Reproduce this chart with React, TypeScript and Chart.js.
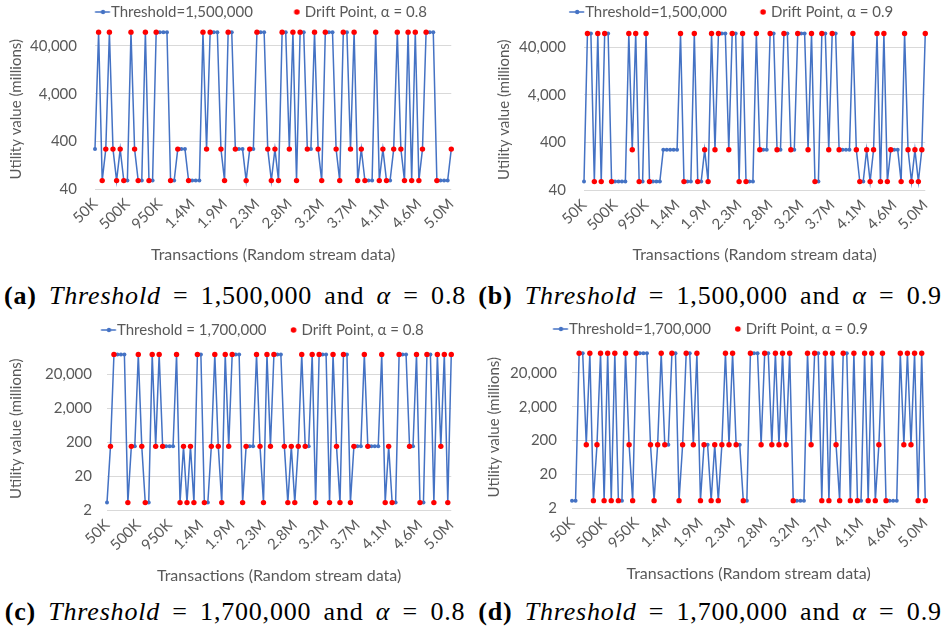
import React, { useEffect, useRef } from "react";
import { Chart, registerables } from "chart.js";

Chart.register(...registerables);

// ---------- categories (x axis) ----------
const transactionLabels = [
  "50K", "100K", "150K", "200K", "250K", "300K", "350K", "400K", "450K", "500K",
  "550K", "600K", "650K", "700K", "750K", "800K", "850K", "900K", "950K", "1.0M",
  "1.1M", "1.1M", "1.2M", "1.2M", "1.3M", "1.3M", "1.4M", "1.4M", "1.5M", "1.5M",
  "1.6M", "1.6M", "1.7M", "1.7M", "1.8M", "1.8M", "1.9M", "1.9M", "2.0M", "2.0M",
  "2.1M", "2.1M", "2.2M", "2.2M", "2.3M", "2.3M", "2.4M", "2.4M", "2.5M", "2.5M",
  "2.6M", "2.6M", "2.7M", "2.7M", "2.8M", "2.8M", "2.9M", "2.9M", "3.0M", "3.0M",
  "3.1M", "3.1M", "3.2M", "3.2M", "3.3M", "3.3M", "3.4M", "3.4M", "3.5M", "3.5M",
  "3.6M", "3.6M", "3.7M", "3.7M", "3.8M", "3.8M", "3.9M", "3.9M", "4.0M", "4.0M",
  "4.1M", "4.1M", "4.2M", "4.2M", "4.3M", "4.3M", "4.4M", "4.4M", "4.5M", "4.5M",
  "4.6M", "4.6M", "4.7M", "4.7M", "4.8M", "4.8M", "4.9M", "4.9M", "5.0M", "5.0M",
];
const labelStep = 9;

// ---------- y tick labels ----------
const yTicksAB = [40, 400, 4000, 40000];
const yTicksCD = [2, 20, 200, 2000, 20000];

// ---------- (a) Threshold = 1,500,000, alpha = 0.8 ----------
const utilityA = [
  275, 78000, 60, 275, 78000, 275, 60, 275, 60, 60,
  78000, 275, 60, 60, 78000, 60, 60, 78000, 78000, 78000,
  78000, 60, 60, 275, 275, 275, 60, 60, 60, 60,
  78000, 275, 78000, 78000, 78000, 275, 60, 78000, 78000, 275,
  275, 275, 60, 275, 275, 78000, 78000, 78000, 275, 60,
  275, 60, 78000, 78000, 275, 78000, 60, 78000, 78000, 275,
  275, 78000, 275, 60, 78000, 78000, 78000, 275, 60, 78000,
  78000, 275, 78000, 60, 275, 60, 60, 60, 78000, 60,
  275, 60, 60, 275, 78000, 275, 60, 78000, 60, 78000,
  60, 275, 78000, 78000, 78000, 60, 60, 60, 60, 275,
];
const driftA = [
  0, 1, 1, 1, 1, 1, 1, 1, 1, 0,
  1, 1, 1, 0, 1, 1, 0, 1, 0, 0,
  0, 1, 0, 1, 0, 0, 1, 0, 0, 0,
  1, 1, 1, 0, 0, 1, 1, 1, 0, 1,
  0, 0, 1, 1, 0, 1, 0, 0, 1, 1,
  1, 1, 1, 0, 1, 1, 1, 1, 0, 1,
  0, 1, 1, 1, 1, 0, 0, 1, 1, 1,
  0, 1, 1, 1, 1, 1, 0, 0, 1, 1,
  1, 1, 0, 1, 1, 1, 1, 1, 1, 1,
  1, 1, 1, 0, 0, 1, 0, 0, 0, 1,
];

// ---------- (b) Threshold = 1,500,000, alpha = 0.9 ----------
const utilityB = [
  60, 78000, 78000, 60, 78000, 60, 78000, 78000, 60, 60,
  60, 60, 60, 78000, 280, 78000, 60, 60, 78000, 60,
  60, 60, 60, 280, 280, 280, 280, 280, 78000, 60,
  60, 60, 78000, 60, 60, 280, 60, 78000, 280, 78000,
  78000, 78000, 280, 78000, 78000, 60, 78000, 60, 60, 60,
  78000, 280, 280, 280, 78000, 78000, 280, 280, 78000, 78000,
  280, 280, 78000, 78000, 78000, 280, 78000, 60, 60, 78000,
  78000, 280, 78000, 78000, 280, 280, 280, 280, 78000, 280,
  60, 60, 280, 60, 280, 78000, 60, 78000, 60, 280,
  280, 280, 60, 78000, 280, 60, 280, 60, 280, 78000,
];
const driftB = [
  0, 1, 0, 1, 1, 1, 1, 0, 1, 0,
  0, 0, 0, 1, 1, 1, 1, 0, 1, 1,
  0, 0, 0, 0, 0, 0, 0, 0, 1, 1,
  0, 0, 1, 1, 0, 1, 1, 1, 1, 1,
  0, 0, 1, 1, 0, 1, 1, 1, 0, 0,
  1, 1, 0, 0, 1, 0, 1, 0, 1, 0,
  1, 0, 1, 0, 0, 1, 1, 1, 0, 1,
  0, 1, 1, 0, 1, 0, 0, 0, 1, 1,
  1, 0, 1, 1, 1, 1, 1, 1, 1, 1,
  0, 0, 1, 1, 1, 1, 1, 1, 1, 1,
];

// ---------- (c) Threshold = 1,700,000, alpha = 0.8 ----------
const utilityC = [
  3.3, 150, 77000, 77000, 77000, 77000, 3.3, 150, 150, 77000,
  150, 3.3, 3.3, 77000, 150, 77000, 150, 150, 150, 150,
  77000, 3.3, 150, 3.3, 150, 3.3, 77000, 77000, 3.3, 3.3,
  150, 77000, 150, 3.3, 77000, 150, 77000, 77000, 77000, 3.3,
  150, 150, 150, 77000, 150, 3.3, 77000, 150, 77000, 77000,
  77000, 150, 3.3, 150, 3.3, 150, 77000, 150, 150, 77000,
  3.3, 77000, 77000, 77000, 3.3, 77000, 150, 3.3, 77000, 77000,
  3.3, 150, 150, 150, 77000, 150, 150, 150, 150, 77000,
  3.3, 150, 3.3, 3.3, 77000, 77000, 77000, 150, 150, 77000,
  3.3, 3.3, 77000, 77000, 3.3, 77000, 150, 77000, 3.3, 77000,
];
const driftC = [
  0, 1, 1, 0, 0, 0, 1, 1, 0, 1,
  1, 1, 0, 1, 1, 1, 1, 0, 0, 0,
  1, 1, 1, 1, 1, 1, 1, 0, 1, 0,
  1, 1, 1, 1, 1, 1, 1, 0, 0, 1,
  1, 0, 0, 1, 1, 1, 1, 1, 1, 0,
  0, 1, 1, 1, 1, 1, 1, 1, 0, 1,
  1, 1, 0, 0, 1, 1, 1, 1, 1, 0,
  1, 1, 0, 0, 1, 1, 0, 0, 0, 1,
  1, 1, 1, 0, 1, 0, 0, 1, 0, 1,
  1, 0, 1, 0, 1, 1, 1, 1, 1, 1,
];

// ---------- (d) Threshold = 1,700,000, alpha = 0.9 ----------
const utilityD = [
  3.3, 3.3, 77000, 77000, 150, 77000, 3.3, 150, 77000, 3.3,
  77000, 3.3, 77000, 3.3, 3.3, 77000, 150, 3.3, 77000, 77000,
  77000, 77000, 150, 3.3, 150, 77000, 150, 150, 77000, 77000,
  3.3, 150, 77000, 77000, 150, 77000, 3.3, 150, 150, 3.3,
  150, 3.3, 150, 77000, 150, 77000, 150, 150, 3.3, 3.3,
  77000, 77000, 77000, 150, 77000, 77000, 150, 77000, 150, 77000,
  150, 77000, 3.3, 3.3, 3.3, 3.3, 77000, 150, 77000, 77000,
  3.3, 77000, 3.3, 77000, 150, 3.3, 77000, 77000, 3.3, 77000,
  3.3, 3.3, 77000, 3.3, 77000, 3.3, 150, 77000, 3.3, 3.3,
  3.3, 3.3, 77000, 150, 77000, 150, 77000, 3.3, 77000, 3.3,
];
const driftD = [
  0, 0, 1, 0, 1, 1, 1, 1, 1, 1,
  1, 1, 1, 1, 0, 1, 1, 1, 1, 0,
  0, 0, 1, 1, 1, 1, 1, 0, 1, 0,
  1, 1, 1, 0, 1, 1, 1, 1, 0, 1,
  1, 1, 1, 1, 1, 1, 1, 0, 1, 0,
  1, 0, 0, 1, 1, 0, 1, 1, 1, 1,
  1, 1, 1, 0, 0, 0, 1, 1, 1, 0,
  1, 1, 1, 1, 1, 1, 1, 0, 1, 1,
  1, 0, 1, 1, 1, 1, 1, 1, 1, 0,
  0, 0, 1, 1, 1, 1, 1, 1, 1, 1,
];

// ---------- styling ----------
const BLUE = "#4472C4";
const RED = "#FF0000";
const TEXT = "#595959";
const GRID = "#D9D9D9";
const FONT = "Lato, 'Open Sans', sans-serif";

function formatThousands(v: number) {
  return String(Math.round(v)).replace(/\B(?=(\d{3})+(?!\d))/g, ",");
}

// legend symbol drawn into an image of width 2*w, so that when Chart.js centres
// it on the legend box (width w) the symbol sits just before the label text
function legendIcon(kind: "line" | "dot", w: number) {
  const c = document.createElement("canvas");
  c.width = Math.round(2 * w);
  c.height = 16;
  const ctx = c.getContext("2d")!;
  const cx = c.width / 2 + w / 2 - 0.5;
  if (kind === "line") {
    ctx.strokeStyle = BLUE;
    ctx.lineWidth = 1.5;
    ctx.beginPath();
    ctx.moveTo(cx - 8, 8);
    ctx.lineTo(cx + 7, 8);
    ctx.stroke();
    ctx.fillStyle = BLUE;
    ctx.beginPath();
    ctx.arc(cx, 8, 2.2, 0, Math.PI * 2);
    ctx.fill();
  } else {
    ctx.fillStyle = RED;
    ctx.beginPath();
    ctx.arc(cx, 8, 2.8, 0, Math.PI * 2);
    ctx.fill();
  }
  return c;
}

// moves the (centred) legend row sideways by a few pixels
const legendShift = {
  id: "legendShift",
  afterLayout(chart: any, _args: any, opts: any) {
    const l = chart.legend;
    if (l && opts && opts.dx) {
      l.left += opts.dx;
      l.right += opts.dx;
    }
  },
};

type PanelProps = {
  left: number;
  top: number;
  width: number;
  height: number;
  padLeft: number;
  padRight: number;
  padTop: number;
  legendDx: number;
  legendBox: number;
  yAxisWidth: number;
  xAxisHeight: number;
  yLabelPad: number;
  values: number[];
  drift: number[];
  yMin: number;
  yMax: number;
  yTicks: number[];
  seriesLabel: string;
  driftLabel: string;
};

function ChartPanel(p: PanelProps) {
  const ref = useRef<HTMLCanvasElement>(null);
  useEffect(() => {
    const driftPoints = p.values.map((v, i) => (p.drift[i] ? v : null));
    const icons = [legendIcon("line", p.legendBox), legendIcon("dot", p.legendBox)];
    const chart = new Chart(ref.current!, {
      type: "line",
      plugins: [legendShift],
      data: {
        labels: transactionLabels,
        datasets: [
          {
            label: p.seriesLabel,
            data: p.values,
            borderColor: BLUE,
            backgroundColor: BLUE,
            borderWidth: 1.5,
            pointRadius: 2,
            pointBorderWidth: 0,
            pointBackgroundColor: BLUE,
            tension: 0,
            clip: false,
            order: 1,
          },
          {
            label: p.driftLabel,
            data: driftPoints,
            showLine: false,
            borderColor: RED,
            backgroundColor: RED,
            pointRadius: 2.7,
            pointBorderWidth: 0,
            pointBackgroundColor: RED,
            clip: false,
            order: 0,
          },
        ],
      },
      options: {
        responsive: false,
        animation: false,
        events: [],
        layout: { padding: { left: p.padLeft, right: p.padRight, top: p.padTop, bottom: 0 } },
        plugins: {
          tooltip: { enabled: false },
          legendShift: { dx: p.legendDx },
          legend: {
            display: true,
            position: "top",
            labels: {
              usePointStyle: true,
              pointStyleWidth: p.legendBox,
              padding: 2,
              color: TEXT,
              font: { family: FONT, size: 15 },
              sort: (a: any, b: any) => a.datasetIndex - b.datasetIndex,
              generateLabels: (chart: any) =>
                Chart.defaults.plugins.legend.labels.generateLabels(chart).map((item: any) => ({
                  ...item,
                  pointStyle: icons[item.datasetIndex],
                })),
            },
          },
        },
        scales: {
          x: {
            type: "category",
            offset: false,
            grid: { display: false, drawTicks: false },
            border: { display: false },
            ticks: {
              autoSkip: false,
              minRotation: 45,
              maxRotation: 45,
              padding: 6,
              color: TEXT,
              font: { family: FONT, size: 15 },
              callback: function (this: any, value: any, index: number) {
                return index % labelStep === 0 ? this.getLabelForValue(value) : null;
              },
            },
            title: {
              display: true,
              text: "Transactions (Random stream data)",
              color: TEXT,
              font: { family: FONT, size: 16 },
              padding: { top: 2, bottom: 4 },
            },
            afterFit: (s: any) => {
              s.height = p.xAxisHeight;
            },
          },
          y: {
            type: "logarithmic",
            min: p.yMin,
            max: p.yMax,
            afterBuildTicks: (axis: any) => {
              axis.ticks = p.yTicks.map((v) => ({ value: v }));
            },
            grid: { color: GRID, lineWidth: 1, drawTicks: false },
            border: { display: false },
            ticks: {
              padding: p.yLabelPad,
              color: TEXT,
              font: { family: FONT, size: 15 },
              callback: (v: any) => formatThousands(Number(v)),
            },
            title: {
              display: true,
              text: "Utility value (millions)",
              color: TEXT,
              font: { family: FONT, size: 15 },
              padding: { top: 2, bottom: 2 },
            },
            afterFit: (s: any) => {
              s.width = p.yAxisWidth;
            },
          },
        },
      },
    } as any);
    return () => chart.destroy();
  }, []);
  return (
    <canvas
      ref={ref}
      width={p.width}
      height={p.height}
      style={{ position: "absolute", left: p.left, top: p.top, width: p.width, height: p.height }}
    />
  );
}

const captionStyle: React.CSSProperties = {
  position: "absolute",
  textAlign: "center",
  fontFamily: "'Liberation Serif', 'DejaVu Serif', serif",
  fontSize: 26,
  lineHeight: "28px",
  letterSpacing: "0.8px",
  wordSpacing: "5px",
  color: "#000",
  whiteSpace: "nowrap",
};

function Caption(props: { left: number; top: number; width: number; tag: string; threshold: string; alpha: string }) {
  return (
    <div style={{ ...captionStyle, left: props.left, top: props.top, width: props.width }}>
      <b>({props.tag})</b> <i>Threshold</i> = {props.threshold} and <i>α</i> = {props.alpha}
    </div>
  );
}

export default function App() {
  return (
    <div
      style={{
        position: "absolute",
        left: 0,
        top: 0,
        width: 944,
        height: 632,
        background: "#fff",
        overflow: "hidden",
      }}
    >
      <ChartPanel
        left={0} top={0} width={470} height={268}
        padLeft={5} padRight={15} padTop={2.5} legendDx={14} legendBox={42.5}
        yAxisWidth={90} xAxisHeight={79} yLabelPad={18}
        values={utilityA} drift={driftA}
        yMin={40} yMax={88700} yTicks={yTicksAB}
        seriesLabel="Threshold=1,500,000" driftLabel="Drift Point, α = 0.8"
      />
      <ChartPanel
        left={488} top={0} width={456} height={268}
        padLeft={5} padRight={14.6} padTop={2.5} legendDx={7} legendBox={34.5}
        yAxisWidth={91} xAxisHeight={78} yLabelPad={18}
        values={utilityB} drift={driftB}
        yMin={40} yMax={94600} yTicks={yTicksAB}
        seriesLabel="Threshold=1,500,000" driftLabel="Drift Point, α = 0.9"
      />
      <ChartPanel
        left={0} top={318} width={470} height={271}
        padLeft={5} padRight={17.3} padTop={2.5} legendDx={25} legendBox={25.5}
        yAxisWidth={102} xAxisHeight={79} yLabelPad={15}
        values={utilityC} drift={driftC}
        yMin={2} yMax={122800} yTicks={yTicksCD}
        seriesLabel="Threshold = 1,700,000" driftLabel="Drift Point, α = 0.8"
      />
      <ChartPanel
        left={478} top={318} width={466} height={269}
        padLeft={5} padRight={13} padTop={1.5} legendDx={-5} legendBox={25.5}
        yAxisWidth={89} xAxisHeight={79} yLabelPad={15}
        values={utilityD} drift={driftD}
        yMin={2} yMax={121600} yTicks={yTicksCD}
        seriesLabel="Threshold=1,700,000" driftLabel="Drift Point, α = 0.9"
      />
      <Caption left={0} top={282} width={470} tag="a" threshold="1,500,000" alpha="0.8" />
      <Caption left={476} top={282} width={468} tag="b" threshold="1,500,000" alpha="0.9" />
      <Caption left={0} top={598} width={470} tag="c" threshold="1,700,000" alpha="0.8" />
      <Caption left={476} top={598} width={468} tag="d" threshold="1,700,000" alpha="0.9" />
    </div>
  );
}
